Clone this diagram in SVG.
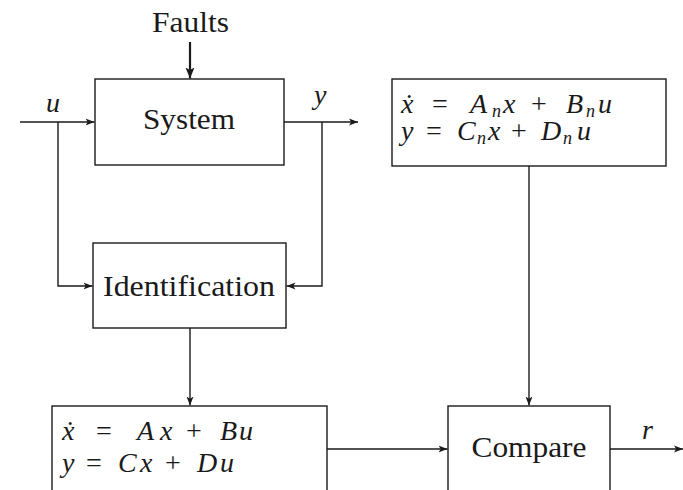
<svg xmlns="http://www.w3.org/2000/svg" width="683" height="490" viewBox="0 0 683 490">
<defs>
<style>
.box{fill:#fff;stroke:#1a1a1a;stroke-width:1.4}
.wire{fill:none;stroke:#1a1a1a;stroke-width:1.4}
.thick{fill:none;stroke:#1a1a1a;stroke-width:2.2}
.lbl{font-family:"Liberation Serif","Times New Roman",serif;font-size:29px;fill:#1a1a1a}
.m{font-family:"Liberation Serif","Times New Roman",serif;font-size:28px;font-style:italic;fill:#1a1a1a}
.r{font-style:normal}
.s{font-size:18px}
</style>
<marker id="ah" markerUnits="userSpaceOnUse" markerWidth="10" markerHeight="8" refX="9" refY="4" orient="auto">
<path d="M0,0.5 L9,4 L0,7.5 L2.2,4 Z" fill="#1a1a1a"/>
</marker>
<marker id="ahb" markerUnits="userSpaceOnUse" markerWidth="12" markerHeight="10" refX="11" refY="5" orient="auto">
<path d="M0,0.5 L11,5 L0,9.5 L2.5,5 Z" fill="#1a1a1a"/>
</marker>
</defs>
<g id="connectors">
<line class="thick" x1="190" y1="42" x2="190" y2="78.5" marker-end="url(#ahb)"/>
<line class="wire" x1="20" y1="122" x2="94.5" y2="122" marker-end="url(#ah)"/>
<polyline class="wire" points="58,122 58,286 92.5,286" marker-end="url(#ah)"/>
<line class="wire" x1="284" y1="122" x2="358" y2="122" marker-end="url(#ah)"/>
<polyline class="wire" points="322,122 322,286 286.5,286" marker-end="url(#ah)"/>
<line class="wire" x1="190" y1="328" x2="190" y2="405.5" marker-end="url(#ah)"/>
<line class="wire" x1="529" y1="166" x2="529" y2="405.5" marker-end="url(#ah)"/>
<line class="wire" x1="327" y1="449" x2="447.5" y2="449" marker-end="url(#ah)"/>
<line class="wire" x1="610" y1="449" x2="683" y2="449" marker-end="url(#ah)"/>
<text class="lbl" x="190.5" y="32" text-anchor="middle" textLength="77" lengthAdjust="spacingAndGlyphs">Faults</text>
<text class="m" x="46" y="112">u</text>
<text class="m" x="314" y="104">y</text>
<text class="m" x="642" y="439">r</text>
</g>
<g id="system">
<rect class="box" x="95" y="79" width="189" height="86"/>
<text class="lbl" x="189" y="129" text-anchor="middle" textLength="92" lengthAdjust="spacingAndGlyphs">System</text>
</g>
<g id="identification">
<rect class="box" x="93" y="243" width="193" height="85"/>
<text class="lbl" x="189" y="296" text-anchor="middle" textLength="172" lengthAdjust="spacingAndGlyphs">Identification</text>
</g>
<g id="nominal-model">
<rect class="box" x="392" y="79" width="274" height="87"/>
<text class="m" y="113"><tspan x="401">ẋ</tspan><tspan class="r" x="432">=</tspan><tspan x="470">A</tspan><tspan class="s" x="492" dy="4">n</tspan><tspan x="503" dy="-4">x</tspan><tspan class="r" x="531">+</tspan><tspan x="566">B</tspan><tspan class="s" x="586" dy="4">n</tspan><tspan x="598" dy="-4">u</tspan></text>
<text class="m" y="140"><tspan x="401">y</tspan><tspan class="r" x="426">=</tspan><tspan x="457">C</tspan><tspan class="s" x="477" dy="4">n</tspan><tspan x="488" dy="-4">x</tspan><tspan class="r" x="511">+</tspan><tspan x="541">D</tspan><tspan class="s" x="563" dy="4">n</tspan><tspan x="577" dy="-4">u</tspan></text>
</g>
<g id="identified-model">
<rect class="box" x="52" y="406" width="275" height="100"/>
<text class="m" y="440"><tspan x="62">ẋ</tspan><tspan class="r" x="96">=</tspan><tspan x="137">A</tspan><tspan x="160">x</tspan><tspan class="r" x="186">+</tspan><tspan x="220">B</tspan><tspan x="239">u</tspan></text>
<text class="m" y="472"><tspan x="62">y</tspan><tspan class="r" x="86">=</tspan><tspan x="118">C</tspan><tspan x="140">x</tspan><tspan class="r" x="165">+</tspan><tspan x="197">D</tspan><tspan x="220">u</tspan></text>
</g>
<g id="compare">
<rect class="box" x="448" y="406" width="162" height="100"/>
<text class="lbl" x="529" y="457" text-anchor="middle" textLength="115" lengthAdjust="spacingAndGlyphs">Compare</text>
</g>
</svg>
